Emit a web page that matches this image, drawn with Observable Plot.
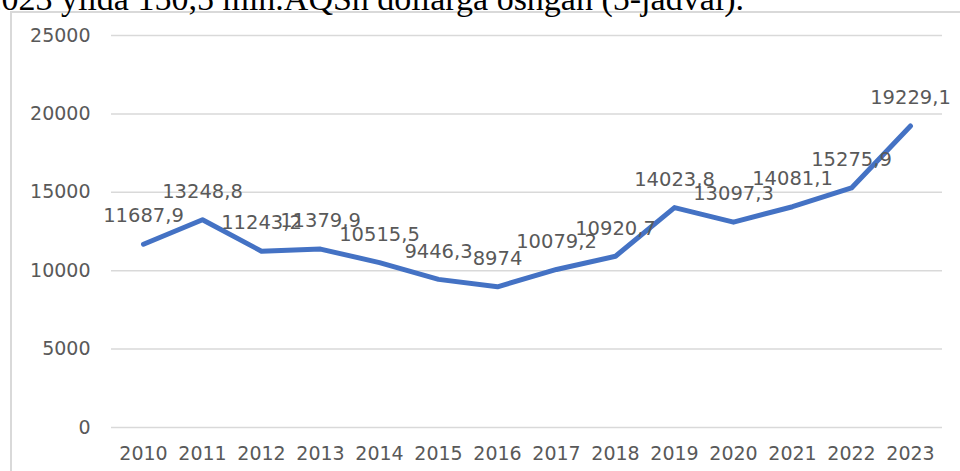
<!DOCTYPE html>
<html>
<head>
<meta charset="utf-8">
<script src="https://cdn.jsdelivr.net/npm/d3@7"></script>
<script src="https://cdn.jsdelivr.net/npm/@observablehq/plot@0.6"></script>
<style>
  html, body { margin: 0; padding: 0; background: #fff; }
  #wrap { position: relative; width: 960px; height: 471px; overflow: hidden; background: #fff; }
  #frame { position: absolute; left: 10px; top: 11px; width: 1000px; height: 600px; border: 2px solid #d9d9d9; box-sizing: border-box; }
  #note { position: absolute; right: 216px; top: -18px; font-family: "Liberation Serif", "Times New Roman", serif; font-size: 34px; color: #000; white-space: nowrap; line-height: 34px; }
  #chart { position: absolute; left: 0; top: 0; }
</style>
</head>
<body>
<div id="wrap">
  <div id="frame"></div>
  <div id="note">2023 yilda 150,5 mln.AQSh dollarga oshgan (5-jadval).</div>
  <div id="chart"></div>
</div>
<script>
const years = ["2010","2011","2012","2013","2014","2015","2016","2017","2018","2019","2020","2021","2022","2023"];
const values = [11687.9, 13248.8, 11243.2, 11379.9, 10515.5, 9446.3, 8974, 10079.2, 10920.7, 14023.8, 13097.3, 14081.1, 15275.9, 19229.1];
const yTicks = [0, 5000, 10000, 15000, 20000, 25000];

const data = years.map((y, i) => ({year: y, value: values[i]}));
const loc = d3.formatLocale({decimal: ",", thousands: "", grouping: [3], currency: ["", ""]});
const fmt = loc.format("~f");

const plot = Plot.plot({
  width: 960,
  height: 471,
  marginLeft: 111,
  marginRight: 18,
  marginTop: 35,
  marginBottom: 44,
  style: {fontFamily: "DejaVu Sans, sans-serif", fontSize: "19px", color: "#595959", background: "transparent"},
  x: {type: "point", domain: years, padding: 0.5, label: null},
  y: {domain: [0, 25000], ticks: yTicks, label: null},
  marks: [
    Plot.ruleY(yTicks, {stroke: "#d9d9d9", strokeWidth: 1.5}),
    Plot.axisY({ticks: yTicks, tickSize: 0, tickPadding: 21, tickFormat: d => String(d), label: null, fill: "#595959", fontSize: 19}),
    Plot.axisX({tickSize: 0, tickPadding: 19, label: null, fill: "#595959", fontSize: 19}),
    Plot.line(data, {x: "year", y: "value", stroke: "#4472C4", strokeWidth: 5, strokeLinejoin: "round", strokeLinecap: "round"}),
    Plot.text(data, {x: "year", y: "value", text: d => fmt(d.value), dy: -28, fill: "#595959", fontSize: 19.5, textAnchor: "middle"})
  ]
});
document.getElementById("chart").appendChild(plot);
</script>
</body>
</html>
